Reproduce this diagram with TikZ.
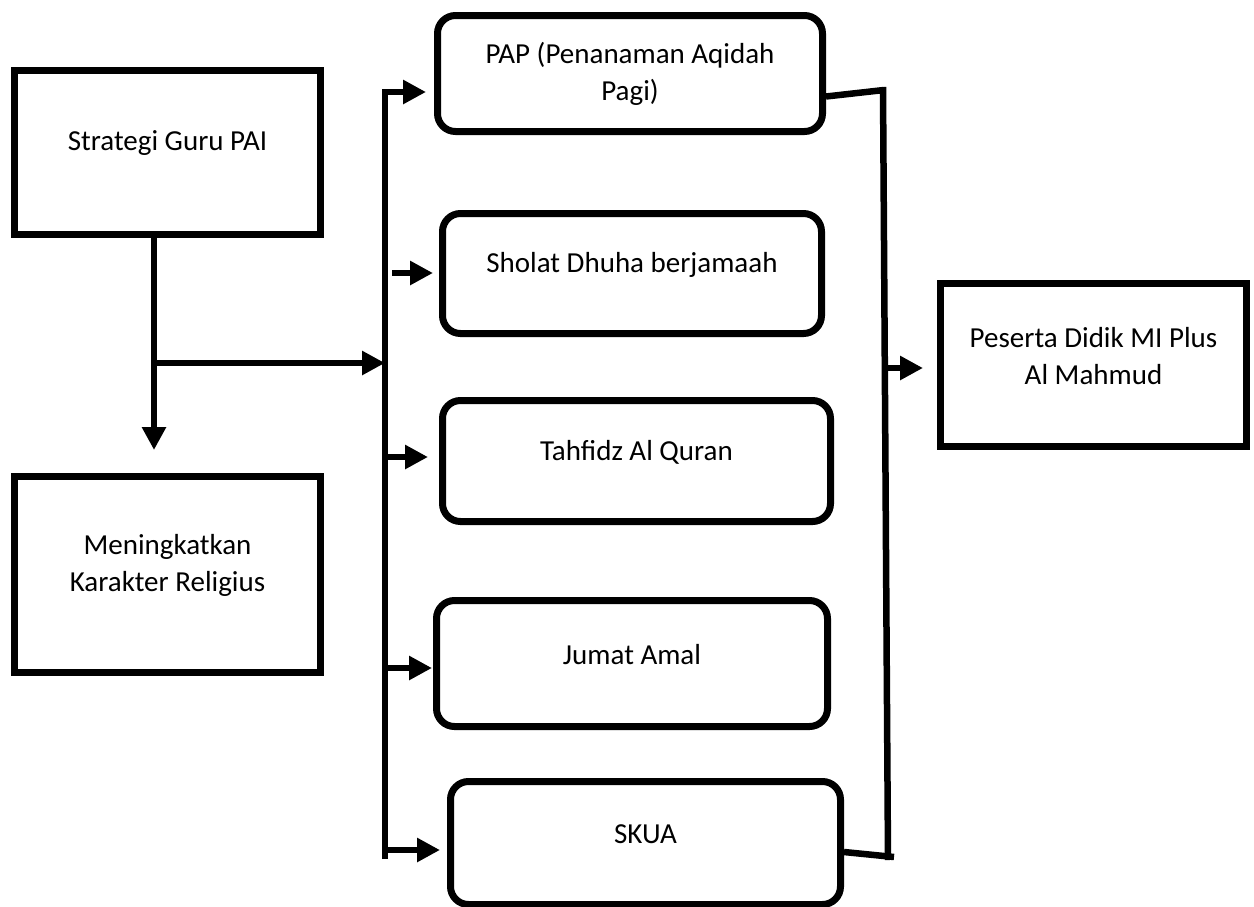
\documentclass[tikz,border=0pt]{standalone}
\usepackage{fontspec}
\setmainfont{Carlito}
\usepackage{tikz}
\usetikzlibrary{arrows.meta}

\begin{document}
\begin{tikzpicture}[x=1pt,y=-1pt,
    font=\fontsize{29}{37}\selectfont,
    plainbox/.style={draw,line width=7pt,inner sep=0pt},
    roundbox/.style={plainbox,rounded corners=18pt},
    txt/.style={align=center},
    lifted/.style={txt,yshift=9pt},
    conn/.style={line width=6.5pt},
    arr/.style={conn,-{Triangle[length=23pt,width=23pt]}}]
  % Boundary
  \path[use as bounding box] (0,0) rectangle (1254,906);
  % Left boxes
  \node[plainbox,minimum width=306pt,minimum height=164pt,label={[lifted]center:Strategi Guru PAI}] (strategi) at (167.5,152.5) {};
  \node[plainbox,minimum width=306pt,minimum height=196pt,label={[lifted]center:Meningkatkan\\Karakter Religius}] (religius) at (167.5,574.5) {};
  % Programme boxes
  \node[roundbox,minimum width=385pt,minimum height=116pt,label={[txt]center:PAP (Penanaman Aqidah\\Pagi)}] (pap) at (630,73.5) {};
  \node[roundbox,minimum width=379pt,minimum height=120pt,label={[lifted]center:Sholat Dhuha berjamaah}] (sholat) at (632,273.5) {};
  \node[roundbox,minimum width=388pt,minimum height=121pt,label={[lifted]center:Tahfidz Al Quran}] (tahfidz) at (636.5,461) {};
  \node[roundbox,minimum width=391pt,minimum height=126pt,label={[lifted]center:Jumat Amal}] (jumat) at (632,663.5) {};
  \node[roundbox,minimum width=390pt,minimum height=123pt,label={[lifted]center:SKUA}] (skua) at (645.5,843) {};
  % Result box
  \node[plainbox,minimum width=306pt,minimum height=163pt,label={[lifted]center:Peserta Didik MI Plus\\Al Mahmud}] (peserta) at (1093.5,365) {};
  % Stem and fork
  \coordinate (fork) at (154,363);
  \coordinate (stemend) at (154,450);
  \draw[arr] (strategi.south -| fork) -- (stemend);
  % Left bus
  \coordinate (ltop) at (385,92);
  \coordinate (lbot) at (385,859);
  \coordinate (lsholat) at (392,273);
  \coordinate (ltahfidz) at (385,457);
  \coordinate (ljumat) at (385,668);
  \coordinate (lskua) at (385,850);
  \draw[arr] (fork) -- (fork -| ltop);
  \draw[arr,shorten >=8pt] (lbot) -- (ltop) -- (ltop -| pap.west);
  \draw[arr,shorten >=6pt] (lsholat) -- (lsholat -| sholat.west);
  \draw[arr,shorten >=11pt] (ltahfidz) -- (ltahfidz -| tahfidz.west);
  \draw[arr,shorten >=1pt] (ljumat) -- (ljumat -| jumat.west);
  \draw[arr,shorten >=7pt] (lskua) -- (lskua -| skua.west);
  % Right bus
  \coordinate (rtop) at (883,87);
  \coordinate (rbot) at (888,860);
  \coordinate (rpap) at (884,90);
  \coordinate (rskua) at (894,857);
  \coordinate (rout) at (885,368);
  \draw[conn] (rtop) -- (rbot);
  \draw[conn] ([yshift=-23pt]pap.east) -- (rpap);
  \draw[conn] ([yshift=-9pt]skua.east) -- (rskua);
  \draw[arr,shorten >=14pt] (rout) -- (rout -| peserta.west);
\end{tikzpicture}
\end{document}
